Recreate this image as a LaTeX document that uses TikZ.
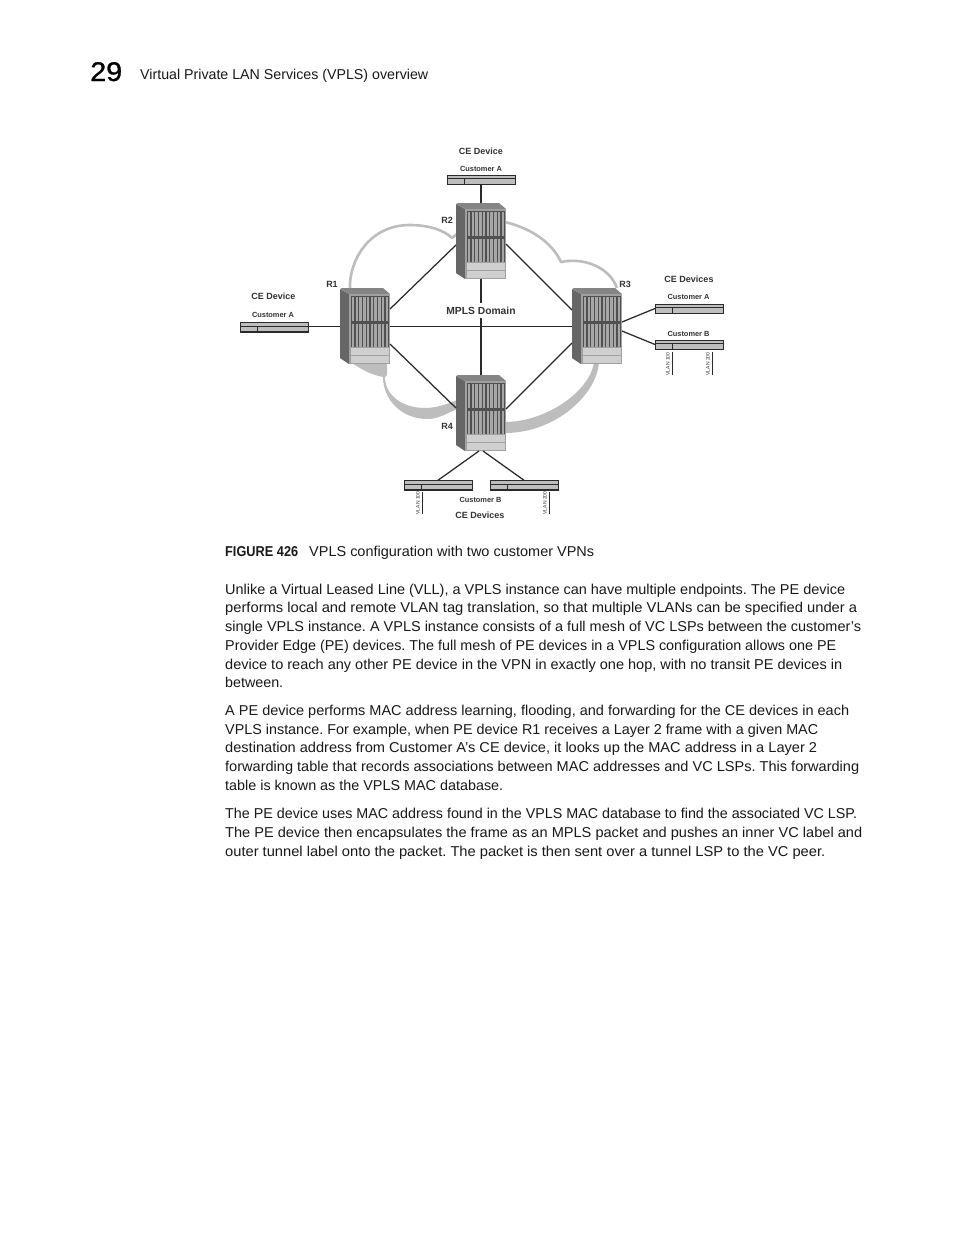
\documentclass[tikz,border=0pt]{standalone}
\usepackage{fontspec}
\usepackage{graphicx}
\setmainfont{Liberation Sans}
\newfontfamily\chapfont[RawFeature={embolden=1.0}]{Liberation Sans}
\definecolor{cloudgray}{HTML}{BDBDBD}
\definecolor{linedark}{HTML}{2A2A2A}
\definecolor{labeldark}{HTML}{333333}
\definecolor{sideface}{HTML}{666666}
\definecolor{topface}{HTML}{858585}
\definecolor{frameface}{HTML}{A0A0A0}
\definecolor{slotdark}{HTML}{505050}
\definecolor{slotbar}{HTML}{A6A6A6}
\definecolor{lowerpanel}{HTML}{CFCFCF}
\definecolor{switchgray}{HTML}{BEBEBE}
\tikzset{
  routerbox/.style={inner sep=0pt,outer sep=0pt,minimum width=50pt,minimum height=76pt,anchor=north west},
  switchbox/.style={inner sep=0pt,outer sep=0pt,minimum width=68pt,minimum height=9.5pt,fill=switchgray,draw=linedark,line width=.5pt},
  mesh/.style={draw=linedark,line width=1.25pt},
  flatmesh/.style={draw=linedark,line width=.8pt},
  trunk/.style={draw=linedark,line width=2.2pt},
  vlanline/.style={draw=linedark,line width=.9pt},
  cloudline/.style={draw=cloudgray,line width=2.6pt,line join=round},
  biglabel/.style={inner sep=0pt,text=labeldark,font=\fontsize{9}{9}\selectfont\bfseries},
  smalllabel/.style={inner sep=0pt,text=labeldark,font=\fontsize{7.4}{7.4}\selectfont\bfseries},
  vlanlabel/.style={inner sep=0pt,text=labeldark,rotate=90,font=\fontsize{5}{5}\selectfont},
  bodytext/.style={inner sep=0pt,anchor=base west,text=black!90,font=\fontsize{14.3}{14.3}\selectfont}
}
\newcommand{\rackdraw}[3]{%
  \node[routerbox] (#1) at (#2,#3) {};
  \begin{scope}[shift={(#2,#3)}]
    \fill[sideface] (0,1) -- (9,6) -- (9,76) -- (0,70) -- cycle;
    \fill[topface] (0,1) -- (2,0) -- (43,0) -- (50,6) -- (9,6) -- cycle;
    \fill[frameface] (9,6) rectangle (50,76);
    \fill[slotdark] (11,8) rectangle (49,59);
    \foreach \k in {0,...,9}{
      \fill[slotbar] ({11.8+3.75*\k},9) rectangle ({14.4+3.75*\k},33);
      \fill[slotbar] ({11.8+3.75*\k},35.5) rectangle ({14.4+3.75*\k},58.5);
    }
    \fill[lowerpanel] (11,60) rectangle (49,74.5);
    \draw[frameface,line width=.6pt] (11,67) -- (49,67);
  \end{scope}}
\newcommand{\switchdraw}[3]{%
  \node[switchbox] (#1) at (#2,#3) {};
  \draw[linedark,line width=1pt] ([yshift=.6pt]#1.west) -- ([yshift=.6pt]#1.east);
  \draw[linedark,line width=1.3pt] (#1.south west) -- (#1.south east);
  \draw[linedark,line width=.8pt] ([xshift=17pt,yshift=.6pt]#1.west) -- ([xshift=17pt]#1.south west);}
\begin{document}
\frenchspacing
\begin{tikzpicture}[x=1pt,y=-1pt]
\useasboundingbox (0,0) rectangle (954,1235);
\fill[white] (0,0) rectangle (954,1235);

% cloud
\draw[cloudline] (350,288) .. controls (349,262) and (368,225) .. (410,225) .. controls (428,225) and (444,230) .. (452,238) -- (457,234);
\draw[cloudline] (505,222) .. controls (530,228) and (552,242) .. (561,262) .. controls (585,257) and (610,268) .. (617,288);
\fill[cloudgray] (599,362) .. controls (597,395) and (555,433) .. (505,433) -- (505,422) .. controls (545,422) and (590,392) .. (594,362) -- cycle;
\fill[cloudgray] (352,363) .. controls (362,370) and (372,375) .. (383,377) .. controls (383,398) and (400,420) .. (430,419) .. controls (440,418) and (450,412) .. (457,409) -- (457,400) .. controls (445,405) and (435,408) .. (425,408) .. controls (402,408) and (385,395) .. (385,377) -- (387,375) -- (387,363) -- cycle;

% routers
\rackdraw{r1}{340}{288}
\rackdraw{r2}{456}{203}
\rackdraw{r3}{572}{288}
\rackdraw{r4}{456}{375}

% switches
\switchdraw{swtop}{481}{179.5}
\switchdraw{swleft}{274}{327}
\switchdraw{swa}{689}{308.5}
\switchdraw{swb}{689}{344.5}
\switchdraw{swc}{438}{485}
\switchdraw{swd}{524}{485}

% connectors
\draw[mesh] ([yshift=17pt]r1.east) -- ([yshift=-4pt]r2.west);
\draw[mesh] ([yshift=-3pt]r2.east) -- ([yshift=16pt]r3.west);
\draw[flatmesh] (r1.east) -- (r3.west);
\draw[mesh] ([yshift=-18pt]r1.east) -- ([yshift=5pt]r4.west);
\draw[mesh] ([yshift=-17pt]r3.west) -- ([yshift=4pt]r4.east);
\draw[trunk] (r2.south) -- (r4.north);
\draw[trunk] (swtop.south) -- (r2.north);
\draw[flatmesh] ([yshift=1pt]swleft.east) -- (r1.west);
\draw[mesh] ([yshift=4pt]r3.east) -- (swa.west);
\draw[mesh] ([yshift=-5pt]r3.east) -- (swb.west);
\draw[mesh] ([xshift=-2pt]r4.south) -- (swc.north);
\draw[mesh] ([xshift=2pt]r4.south) -- (swd.north);

% VLAN stubs
\coordinate (v1a) at (672,352); \coordinate (v1b) at (672,375);
\coordinate (v2a) at (712,352); \coordinate (v2b) at (712,375);
\coordinate (v3a) at (422,492); \coordinate (v3b) at (422,514);
\coordinate (v4a) at (549,492); \coordinate (v4b) at (549,514);
\draw[vlanline] (v1a) -- (v1b);
\draw[vlanline] (v2a) -- (v2b);
\draw[vlanline] (v3a) -- (v3b);
\draw[vlanline] (v4a) -- (v4b);

% labels
\node[biglabel] (ltopce) at (481,151) {CE Device};
\node[smalllabel] (ltopcu) at (481,168.5) {Customer A};
\node[biglabel] (lr2) at (447,220) {R2};
\node[biglabel] (lr1) at (332,284) {R1};
\node[biglabel] (lr3) at (625,284) {R3};
\node[biglabel] (lr4) at (447,426) {R4};
\node[biglabel] (lleftce) at (273.5,296) {CE Device};
\node[smalllabel] (lleftcu) at (273,314.5) {Customer A};
\node[biglabel] (lrightce) at (689,279) {CE Devices};
\node[smalllabel] (lrightca) at (688.5,296.5) {Customer A};
\node[smalllabel] (lrightcb) at (688.5,333.5) {Customer B};
\node[biglabel,fill=white,inner xsep=0pt,inner ysep=4pt,font=\fontsize{10.3}{10.3}\selectfont\bfseries] (lmpls) at (481,310.5) {MPLS Domain};
\node[smalllabel] (lbotcb) at (480.5,499.5) {Customer B};
\node[biglabel] (lbotce) at (480,515) {CE Devices};
\node[vlanlabel] (lv1) at (668,364) {VLAN 100};
\node[vlanlabel] (lv2) at (708,364) {VLAN 200};
\node[vlanlabel] (lv3) at (418,503) {VLAN 100};
\node[vlanlabel] (lv4) at (545,503) {VLAN 200};

% page furniture
\node[inner sep=0pt,anchor=base west,font=\chapfont\fontsize{27}{27}\selectfont] (chap) at (90,81) {\resizebox{32pt}{\height}{29}};
\node[bodytext] (head) at (140,79) {\resizebox{288pt}{\height}{Virtual Private LAN Services (VPLS) overview}};
\node[bodytext,font=\fontsize{14.3}{14.3}\selectfont\bfseries] (figlab) at (225,556.5) {\resizebox{73pt}{\height}{FIGURE 426}};
\node[bodytext] (figcap) at (309,556) {\resizebox{285pt}{\height}{VPLS configuration with two customer VPNs}};

\node[bodytext] (a1) at (225,594) {\resizebox{620pt}{\height}{Unlike a Virtual Leased Line (VLL), a VPLS instance can have multiple endpoints. The PE device}};
\node[bodytext] (a2) at (225,612.5) {\resizebox{632pt}{\height}{performs local and remote VLAN tag translation, so that multiple VLANs can be specified under a}};
\node[bodytext] (a3) at (225,631) {\resizebox{636pt}{\height}{single VPLS instance. A VPLS instance consists of a full mesh of VC LSPs between the customer’s}};
\node[bodytext] (a4) at (225,650) {\resizebox{611pt}{\height}{Provider Edge (PE) devices. The full mesh of PE devices in a VPLS configuration allows one PE}};
\node[bodytext] (a5) at (225,669) {\resizebox{617pt}{\height}{device to reach any other PE device in the VPN in exactly one hop, with no transit PE devices in}};
\node[bodytext] (a6) at (225,687) {\resizebox{58pt}{\height}{between.}};

\node[bodytext] (b1) at (225,715) {\resizebox{624pt}{\height}{A PE device performs MAC address learning, flooding, and forwarding for the CE devices in each}};
\node[bodytext] (b2) at (225,734) {\resizebox{593pt}{\height}{VPLS instance. For example, when PE device R1 receives a Layer 2 frame with a given MAC}};
\node[bodytext] (b3) at (225,752.5) {\resizebox{592pt}{\height}{destination address from Customer A’s CE device, it looks up the MAC address in a Layer 2}};
\node[bodytext] (b4) at (225,771) {\resizebox{634pt}{\height}{forwarding table that records associations between MAC addresses and VC LSPs. This forwarding}};
\node[bodytext] (b5) at (225,790) {\resizebox{278pt}{\height}{table is known as the VPLS MAC database.}};

\node[bodytext] (c1) at (225,818) {\resizebox{632pt}{\height}{The PE device uses MAC address found in the VPLS MAC database to find the associated VC LSP.}};
\node[bodytext] (c2) at (225,837) {\resizebox{637pt}{\height}{The PE device then encapsulates the frame as an MPLS packet and pushes an inner VC label and}};
\node[bodytext] (c3) at (225,856) {\resizebox{600pt}{\height}{outer tunnel label onto the packet. The packet is then sent over a tunnel LSP to the VC peer.}};
\end{tikzpicture}
\end{document}
